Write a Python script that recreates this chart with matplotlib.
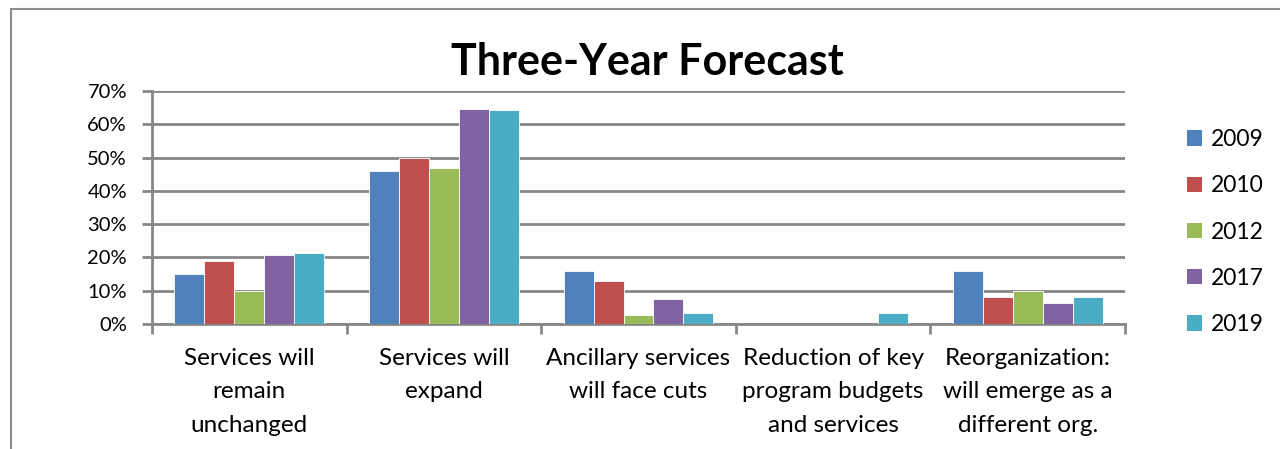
import numpy as np
import matplotlib.pyplot as plt
from matplotlib.patches import Patch, Rectangle

plt.rcParams['font.family'] = ['Lato', 'DejaVu Sans']

categories = ['Services will\nremain\nunchanged', 'Services will\nexpand',
              'Ancillary services\nwill face cuts', 'Reduction of key\nprogram budgets\nand services',
              'Reorganization:\nwill emerge as a\ndifferent org.']
years = ['2009', '2010', '2012', '2017', '2019']
v2009 = [15, 46, 16, 0, 16]
v2010 = [19, 50, 13, 0, 8]
v2012 = [10, 47, 2.6, 0, 10]
v2017 = [20.7, 64.6, 7.4, 0, 6.2]
v2019 = [21.2, 64.2, 3.3, 3.3, 8.2]
series = [v2009, v2010, v2012, v2017, v2019]
colors = ['#4F81BD', '#C0504D', '#9BBB59', '#8064A2', '#4BACC6']
grid_col = '#878787'

fig = plt.figure(figsize=(12.8, 4.49), dpi=100)
# outer chart border (only top/left visible in the crop)
fig.patches.append(Rectangle((11/1280, -0.1), 1.2, 1 - 9/449 + 0.1, transform=fig.transFigure,
                             fill=False, edgecolor='#8c8c8c', linewidth=1.5))

ax = fig.add_axes([152/1280, 1 - 324/449, (1125 - 152)/1280, (324 - 91)/449])

x = np.arange(len(categories))
bw = 1 / 6.5
for i, (vals, c) in enumerate(zip(series, colors)):
    ax.bar(x + (i - 2) * bw, vals, width=bw, color=c, edgecolor='white', linewidth=0.6,
           label=years[i], zorder=3)

ax.set_xlim(-0.5, len(categories) - 0.5)
ax.set_ylim(0, 70)
ax.set_yticks(range(0, 71, 10))
ax.set_yticklabels([f'{t}%' for t in range(0, 71, 10)], fontsize=14.5)
ax.yaxis.grid(True, color=grid_col, linewidth=2, zorder=0)
ax.set_axisbelow(True)

ax.set_xticks(x)
ax.set_xticklabels(categories, fontsize=17.5, linespacing=1.75)
ax.set_xticks(np.arange(-0.5, len(categories)), minor=True)
ax.tick_params(axis='x', which='major', length=0, pad=17)
ax.tick_params(axis='x', which='minor', length=7, width=2, color=grid_col)
ax.tick_params(axis='y', length=7, width=2, color=grid_col, pad=11)

for s in ['top', 'right']:
    ax.spines[s].set_visible(False)
for s in ['left', 'bottom']:
    ax.spines[s].set_color(grid_col)
    ax.spines[s].set_linewidth(2)

# title is centred on the whole chart area, slightly right of the plot centre
fig.text(647/1280, 1 - 62/449, 'Three-Year Forecast', fontsize=31, fontweight='bold',
         ha='center', va='center')

handles = [Patch(facecolor=c, label=y) for c, y in zip(colors, years)]
fig.legend(handles=handles, loc='center left', bbox_to_anchor=(1166/1280, 1 - 232/449),
           frameon=False, fontsize=16.5, handlelength=0.65, handleheight=0.65,
           handletextpad=0.4, labelspacing=1.1)

fig.savefig('out.png', dpi=100)
